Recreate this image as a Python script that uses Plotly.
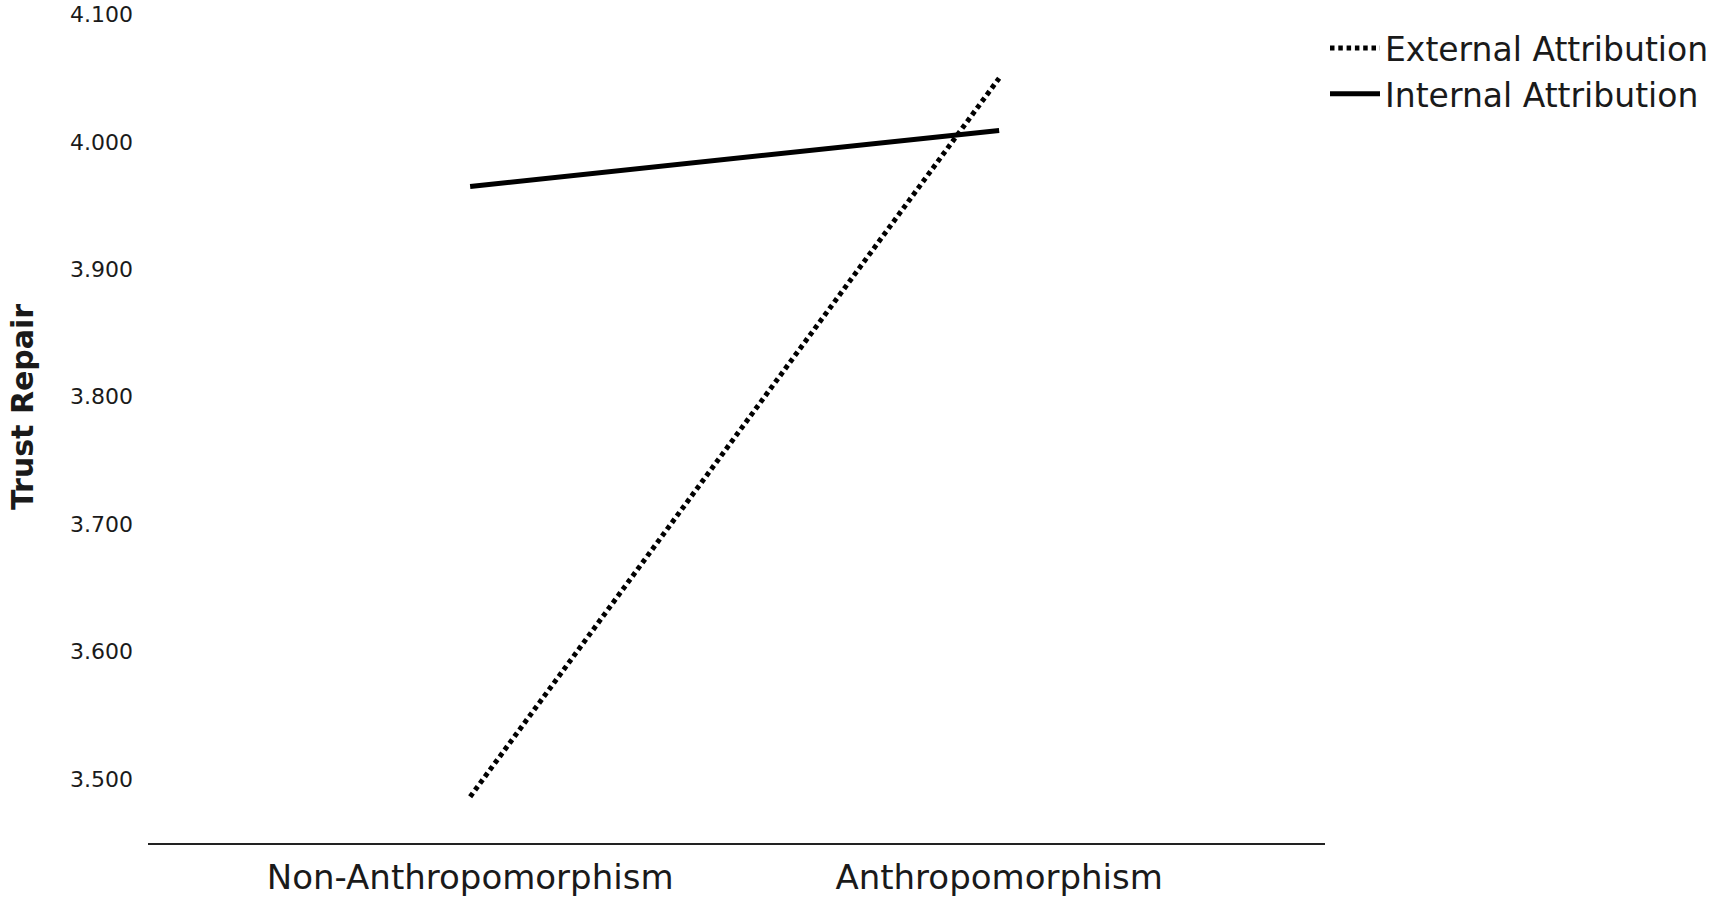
import plotly.graph_objects as go

categories = ["Non-Anthropomorphism", "Anthropomorphism"]
external_attribution = [3.486, 4.050]
internal_attribution = [3.965, 4.009]
y_ticks = [3.5, 3.6, 3.7, 3.8, 3.9, 4.0, 4.1]
y_ticklabels = ["3.500", "3.600", "3.700", "3.800", "3.900", "4.000", "4.100"]

fig = go.Figure()
fig.add_trace(go.Scatter(
    x=categories, y=external_attribution, mode="lines",
    name="External Attribution",
    line=dict(color="black", width=5, dash="4.5px,3.8px"),
))
fig.add_trace(go.Scatter(
    x=categories, y=internal_attribution, mode="lines",
    name="Internal Attribution",
    line=dict(color="black", width=5),
))

fig.update_layout(
    width=1722, height=901,
    margin=dict(l=148, r=397, t=10, b=58, autoexpand=False),
    plot_bgcolor="white", paper_bgcolor="white",
    font=dict(family="DejaVu Sans", color="#1a1a1a"),
    showlegend=True,
    legend=dict(
        x=1.0, xanchor="left", y=0.988, yanchor="top",
        font=dict(size=33, family="DejaVu Sans", color="#1a1a1a"),
        itemwidth=50, tracegroupgap=0,
        bgcolor="rgba(0,0,0,0)",
    ),
    xaxis=dict(
        type="category", range=[-0.609, 1.616],
        showgrid=False, zeroline=False,
        showline=True, linecolor="#222", linewidth=2,
        ticks="", tickfont=dict(size=34, family="DejaVu Sans", color="#1a1a1a"),
        ticklabelstandoff=3,
    ),
    yaxis=dict(
        range=[3.4497, 4.1035],
        tickvals=y_ticks, ticktext=y_ticklabels,
        showgrid=False, zeroline=False, showline=False,
        ticks="", tickfont=dict(size=22, family="DejaVu Sans", color="#1a1a1a"),
        ticklabelstandoff=14, ticklabeloverflow="allow",
    ),
    annotations=[dict(
        text="<b>Trust Repair</b>", textangle=-90,
        xref="paper", yref="paper", x=-0.107, y=0.5234,
        xanchor="center", yanchor="middle", showarrow=False,
        font=dict(size=30, family="DejaVu Sans", color="#1a1a1a"),
    )],
)

fig.write_html(
    "out.html",
    config={"displayModeBar": False},
    post_script="document.body.style.margin='0';",
)
